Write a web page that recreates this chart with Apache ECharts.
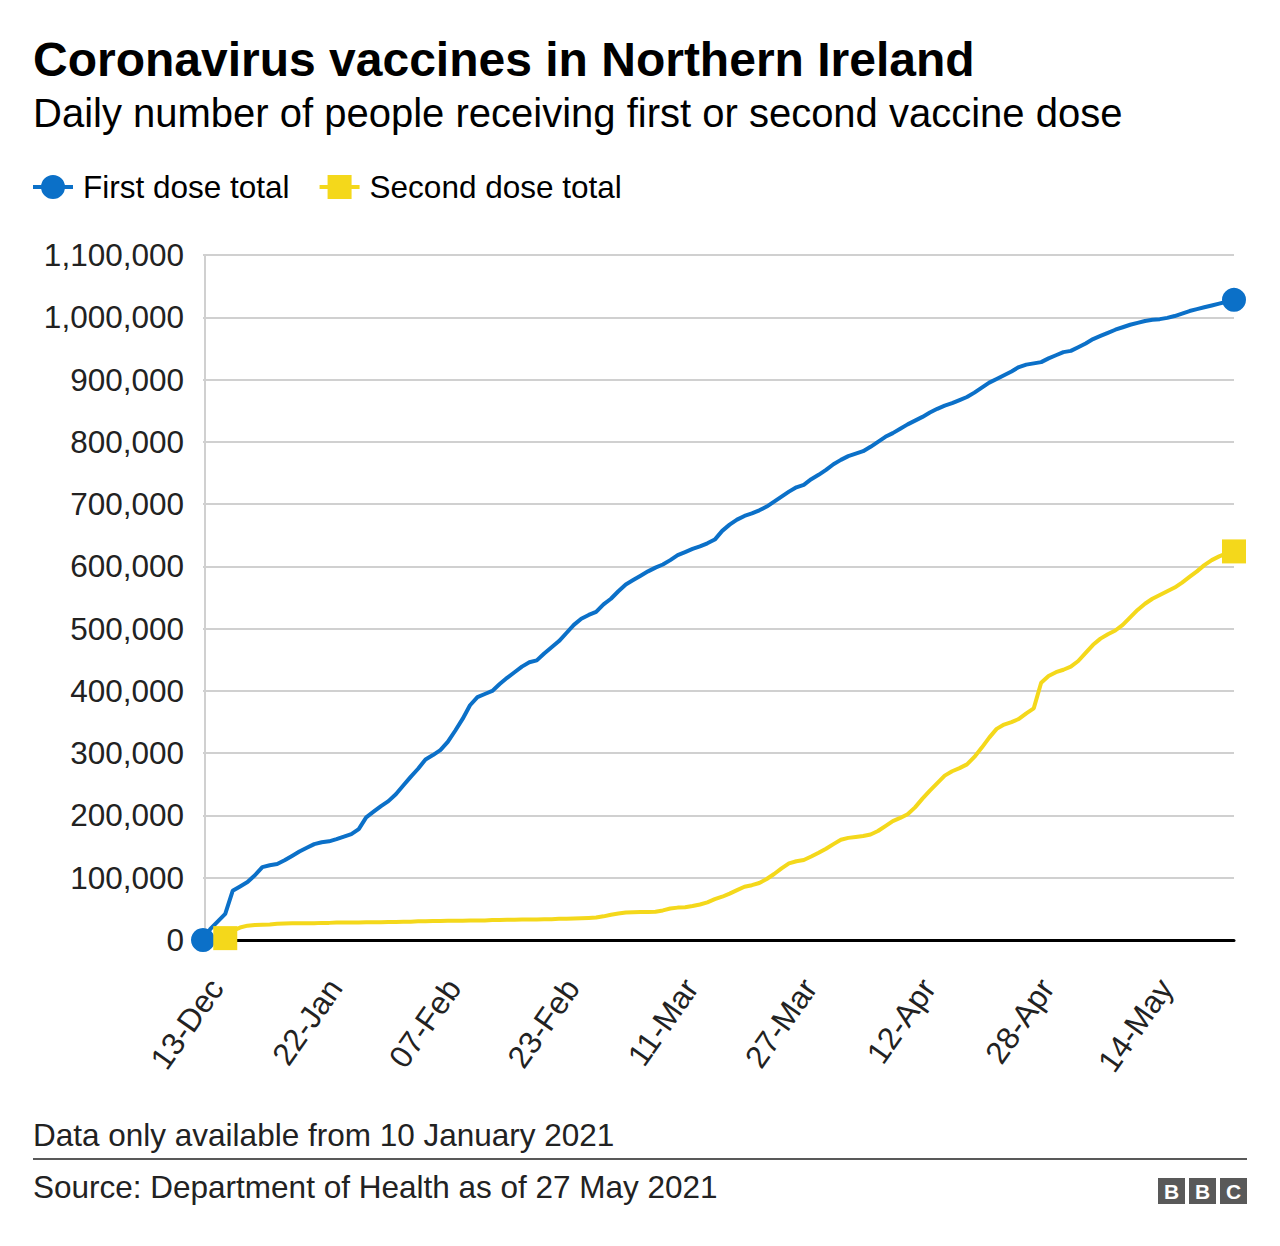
<!DOCTYPE html>
<html>
<head>
<meta charset="utf-8">
<script src="https://cdn.jsdelivr.net/npm/echarts@6/dist/echarts.min.js"></script>
<style>
html,body{margin:0;padding:0;background:#fff;}
#c{width:1280px;height:1246px;}
</style>
</head>
<body>
<div id="c"></div>
<script>
// Categories: first point 13-Dec, then daily from 07-Jan to 25-May
const categories = (function(){
  const out = ['13-Dec'];
  const months = ['Jan','Feb','Mar','Apr','May'];
  const lens = [31,28,31,30,31];
  let m = 0, d = 7;
  while (out.length < 140) {
    out.push((d < 10 ? '0' + d : '' + d) + '-' + months[m]);
    d++;
    if (d > lens[m]) { d = 1; m++; }
  }
  return out;
})();

const firstDose = [
  0, 18000, 30000, 42000, 79000, 86000, 93000, 104000, 117000, 120000,
  122000, 128000, 135000, 142000, 148000, 154000, 157000, 158500, 162000, 166000,
  170000, 178000, 197000, 206000, 215000, 223000, 234000, 248000, 262000, 275000,
  290000, 297000, 305000, 318000, 336000, 355000, 377000, 390000, 395000, 400000,
  411000, 421000, 430000, 439000, 446000, 449000, 460000, 470000, 480000, 493000,
  506000, 516000, 522000, 527000, 539000, 548000, 560000, 571000, 578000, 585000,
  592000, 598000, 603000, 610000, 618000, 623000, 628000, 632000, 637000, 643000,
  657000, 667000, 675000, 681000, 685000, 690000, 696000, 704000, 712000, 720000,
  727000, 731000, 740000, 747000, 755000, 764000, 771000, 777000, 781000, 785000,
  792000, 800000, 808000, 814000, 821000, 828000, 834000, 840000, 847000, 853000,
  858000, 862000, 867000, 872000, 879000, 887000, 895000, 901000, 907000, 913000,
  920000, 924000, 926000, 928000, 934000, 939000, 944000, 946000, 952000, 958000,
  965000, 970000, 975000, 980000, 984000, 988000, 991000, 994000, 996000, 997000,
  999000, 1002000, 1006000, 1010000, 1013000, 1016000, 1019000, 1022000, 1025000, 1028000
];

const secondDose = [
  null, null, null, 3000, 15000, 20000, 23000, 24000, 24500, 25000,
  26000, 26500, 27000, 27000, 27000, 27000, 27500, 27500, 28000, 28000,
  28000, 28000, 28500, 28500, 28500, 29000, 29000, 29500, 29500, 30000,
  30000, 30500, 30500, 31000, 31000, 31000, 31500, 31500, 31500, 32000,
  32000, 32500, 32500, 33000, 33000, 33000, 33500, 33500, 34000, 34000,
  34500, 35000, 35500, 36000, 38000, 40500, 42500, 44000, 44500, 45000,
  45000, 45500, 47500, 50500, 52000, 52500, 54500, 57000, 60500, 65500,
  69500, 74500, 80000, 85500, 88000, 91500, 98000, 106000, 115000, 123000,
  126500, 128500, 134000, 140000, 146500, 154000, 161000, 164000, 165500, 167000,
  169500, 175000, 183000, 191000, 196000, 202000, 213000, 227000, 240000, 252000,
  264000, 271000, 276000, 282000, 294000, 309000, 325000, 339000, 346000, 350000,
  355000, 364000, 372000, 413000, 424000, 430000, 434000, 439000, 448000, 461000,
  474000, 484000, 491000, 497000, 506000, 518000, 530000, 540000, 548000, 554000,
  560000, 566000, 574000, 583000, 592000, 602000, 610000, 616000, 621000, 624000
];

const yTicks = [0, 100000, 200000, 300000, 400000, 500000, 600000, 700000, 800000, 900000, 1000000, 1100000];

const BLUE = '#0b70c8';
const YELLOW = '#f4d81b';
const FONT = '"Liberation Sans", Arial, Helvetica, sans-serif';

function endMarkers(arr, symbol, size) {
  let first = -1, last = -1;
  arr.forEach((v, i) => { if (v !== null) { if (first < 0) first = i; last = i; } });
  return arr.map((v, i) => {
    if (v === null) return null;
    if (i === first || i === last) return { value: v, symbol: symbol, symbolSize: size };
    return v;
  });
}

const chart = echarts.init(document.getElementById('c'), null, { renderer: 'svg' });
chart.setOption({
  animation: false,
  backgroundColor: '#fff',
  textStyle: { fontFamily: FONT },
  title: [
    { text: 'Coronavirus vaccines in Northern Ireland', left: 28, top: 30,
      textStyle: { fontFamily: FONT, fontSize: 48, fontWeight: 'bold', color: '#000' } },
    { text: 'Daily number of people receiving first or second vaccine dose', left: 28, top: 88,
      textStyle: { fontFamily: FONT, fontSize: 40, fontWeight: 'normal', color: '#000' } }
  ],
  legend: {
    left: 28, top: 166,
    itemWidth: 40, itemHeight: 24, itemGap: 30,
    textStyle: { fontFamily: FONT, fontSize: 31.5, color: '#000', padding: [0, 0, 0, 5] },
    data: [
      { name: 'First dose total', icon: 'path://M0,10h9v4h-9z M31,10h9v4h-9z M8,12a12,12 0 1,1 24,0a12,12 0 1,1 -24,0z', itemStyle: { color: BLUE } },
      { name: 'Second dose total', icon: 'path://M0,10h9v4h-9z M31,10h9v4h-9z M8,0h24v24h-24z', itemStyle: { color: YELLOW } }
    ]
  },
  grid: { left: 203, right: 46, top: 255, bottom: 306, containLabel: false },
  xAxis: {
    type: 'category',
    data: categories,
    boundaryGap: false,
    axisLine: { show: true, onZero: false, lineStyle: { color: '#000', width: 3 } },
    axisTick: { show: false },
    axisLabel: {
      interval: 15, rotate: 55, fontSize: 31.5, color: '#222', fontFamily: FONT, margin: 33,
      verticalAlign: 'top'
    },
    splitLine: { show: false }
  },
  yAxis: {
    type: 'value',
    min: 0, max: 1100000, interval: 100000,
    axisLine: { show: false },
    axisTick: { show: false },
    axisLabel: {
      fontSize: 31.5, color: '#222', fontFamily: FONT, margin: 19,
      formatter: v => yTicks.indexOf(v) >= 0 ? v.toLocaleString('en-GB') : ''
    },
    splitLine: { show: true, lineStyle: { color: '#d0d0d0', width: 2 } }
  },
  series: [
    {
      name: 'First dose total', type: 'line',
      data: endMarkers(firstDose, 'circle', 24),
      showSymbol: true, showAllSymbol: true, symbol: 'none',
      lineStyle: { color: BLUE, width: 4 },
      itemStyle: { color: BLUE },
      z: 3
    },
    {
      name: 'Second dose total', type: 'line',
      data: endMarkers(secondDose, 'rect', 24),
      showSymbol: true, showAllSymbol: true, symbol: 'none',
      lineStyle: { color: YELLOW, width: 4 },
      itemStyle: { color: YELLOW },
      z: 4
    }
  ],
  graphic: [
    { type: 'line', shape: { x1: 205, y1: 255, x2: 205, y2: 940 }, style: { stroke: '#d0d0d0', lineWidth: 2 }, z: 0 },
    { type: 'text', left: 33, top: 1119, style: { text: 'Data only available from 10 January 2021', font: '31.5px ' + FONT, fill: '#222' } },
    { type: 'line', shape: { x1: 33, y1: 1159, x2: 1247, y2: 1159 }, style: { stroke: '#222', lineWidth: 1.5 } },
    { type: 'text', left: 33, top: 1171, style: { text: 'Source: Department of Health as of 27 May 2021', font: '31.5px ' + FONT, fill: '#222' } },
    { type: 'group', left: 1158, top: 1178, children: [
      { type: 'rect', shape: { x: 0, y: 0, width: 27, height: 26 }, style: { fill: '#595959' } },
      { type: 'text', style: { x: 13.5, y: 13.5, text: 'B', font: 'bold 21px ' + FONT, fill: '#fff', align: 'center', verticalAlign: 'middle' } },
      { type: 'rect', shape: { x: 31, y: 0, width: 27, height: 26 }, style: { fill: '#595959' } },
      { type: 'text', style: { x: 44.5, y: 13.5, text: 'B', font: 'bold 21px ' + FONT, fill: '#fff', align: 'center', verticalAlign: 'middle' } },
      { type: 'rect', shape: { x: 62, y: 0, width: 27, height: 26 }, style: { fill: '#595959' } },
      { type: 'text', style: { x: 75.5, y: 13.5, text: 'C', font: 'bold 21px ' + FONT, fill: '#fff', align: 'center', verticalAlign: 'middle' } }
    ] }
  ]
});
</script>
</body>
</html>
